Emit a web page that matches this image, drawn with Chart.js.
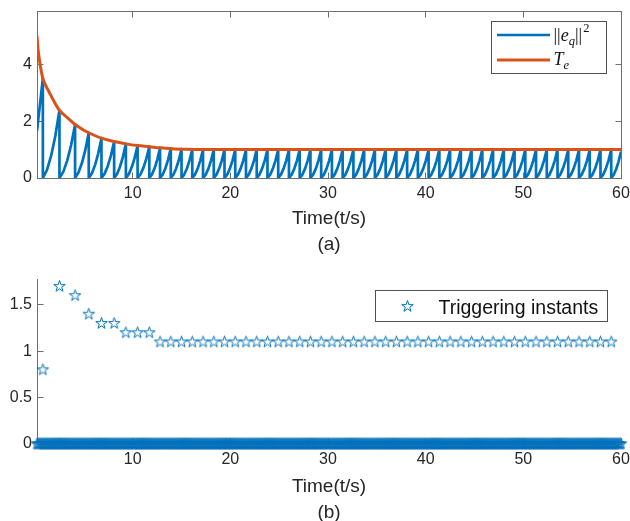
<!DOCTYPE html>
<html>
<head>
<meta charset="utf-8">
<script src="https://cdn.jsdelivr.net/npm/chart.js@4.4.1/dist/chart.umd.min.js"></script>
<style>
  html, body { margin: 0; padding: 0; background: #fff; }
  #wrap { position: relative; width: 630px; height: 521px; overflow: hidden; }
  canvas { position: absolute; left: 0; }
  #panelA { top: 0; }
  #panelB { top: 262px; }
</style>
</head>
<body>
<div id="wrap">
  <canvas id="panelA" width="630" height="262"></canvas>
  <canvas id="panelB" width="630" height="259"></canvas>
</div>
<script>
// ---- tick labels ----
const xTicks = [10, 20, 30, 40, 50, 60];
const errorYTicks = [0, 2, 4];
const eventYTicks = [0, 0.5, 1, 1.5];

// ---- inter-event intervals (s); the first one is measured from t = 0 ----
const triggerIntervals = [
  0.8, 1.7, 1.6, 1.4, 1.3, 1.3, 1.2, 1.2, 1.2,
  1.1, 1.1, 1.1, 1.1, 1.1, 1.1, 1.1, 1.1, 1.1, 1.1,
  1.1, 1.1, 1.1, 1.1, 1.1, 1.1, 1.1, 1.1, 1.1, 1.1,
  1.1, 1.1, 1.1, 1.1, 1.1, 1.1, 1.1, 1.1, 1.1, 1.1,
  1.1, 1.1, 1.1, 1.1, 1.1, 1.1, 1.1, 1.1, 1.1, 1.1,
  1.1, 1.1, 1.1
];

// ---- ||e_q||^2 reached just before each trigger ----
const errorPeaks = [
  3.5, 2.38, 1.88, 1.59, 1.40, 1.28, 1.20, 1.14, 1.10, 1.06, 1.04, 1.02, 1.01,
  1.0, 1.0, 1.0, 1.0, 1.0, 1.0, 1.0, 1.0, 1.0, 1.0,
  1.0, 1.0, 1.0, 1.0, 1.0, 1.0, 1.0, 1.0, 1.0, 1.0,
  1.0, 1.0, 1.0, 1.0, 1.0, 1.0, 1.0, 1.0, 1.0, 1.0,
  1.0, 1.0, 1.0, 1.0, 1.0, 1.0, 1.0, 1.0, 1.0
];
const errorAtStart = 1.66;  // value at the left edge of the window
const errorAtEnd = 0.93;    // value at t = 60
// shape of each rise after a reset: fraction of the interval -> fraction of the next peak
const riseTime  = [0.25, 0.5, 0.75];
const riseLevel = [0.12, 0.33, 0.62];

// ---- threshold T_e ----
const thresholdTimes  = [0.2, 0.3, 0.45, 0.6, 0.8, 1.1, 1.4, 1.9, 2.5, 3.3, 4.1, 5.0, 5.5, 6.8, 8.1, 9.3, 10.5, 11.7, 12.8, 14.0, 15.5, 17.0, 19.0, 60];
const thresholdValues = [5.0, 4.55, 4.15, 3.82, 3.5, 3.25, 3.05, 2.72, 2.38, 2.12, 1.88, 1.68, 1.59, 1.40, 1.28, 1.20, 1.14, 1.10, 1.06, 1.03, 1.01, 1.0, 1.0, 1.0];

// ---- sampling of the event signal (zero between events) ----
const tStart = 0.2;
const tEnd = 60;
const sampleStep = 0.1;

// ---- style ----
const BLUE = '#0072BD';
const ORANGE = '#D95319';
const TEXT = '#262626';
const AXIS = '#6f6f6f';
const SANS = '"Liberation Sans", Arial, Helvetica, sans-serif';
const SERIF = '"Liberation Serif", "Times New Roman", "DejaVu Serif", serif';

Chart.defaults.font.family = SANS;
Chart.defaults.color = TEXT;

// trigger instants from the intervals
const triggerTimes = [];
triggerIntervals.reduce((t, d) => {
  const tk = Math.round((t + d) * 100) / 100;
  triggerTimes.push(tk);
  return tk;
}, 0);

// ||e_q||^2: rises to the threshold, reset to zero at each trigger
const errorPoints = [{ x: tStart, y: errorAtStart }];
triggerTimes.forEach((t, k) => {
  errorPoints.push({ x: t, y: errorPeaks[k] });
  errorPoints.push({ x: t, y: 0 });
  const last = k === triggerTimes.length - 1;
  const tNext = last ? tEnd : triggerTimes[k + 1];
  const pNext = last ? errorAtEnd : errorPeaks[k + 1];
  riseTime.forEach((f, i) => {
    errorPoints.push({ x: t + f * (tNext - t), y: riseLevel[i] * pNext });
  });
});
errorPoints.push({ x: tEnd, y: errorAtEnd });

const thresholdPoints = thresholdTimes.map((t, i) => ({ x: t, y: thresholdValues[i] }));

const eventPoints = triggerTimes.map((t, k) => ({ x: t, y: triggerIntervals[k] }));
const zeroPoints = [];
for (let i = 0; ; i++) {
  const t = Math.round((tStart + i * sampleStep) * 100) / 100;
  if (t > tEnd) break;
  zeroPoints.push({ x: t, y: 0 });
}

// five-pointed star marker
function makeStar(outer, color) {
  const inner = outer * 0.382;
  const size = Math.ceil(outer * 2 + 3);
  const cv = document.createElement('canvas');
  cv.width = size; cv.height = size;
  const g = cv.getContext('2d');
  const c = size / 2;
  g.beginPath();
  for (let i = 0; i < 10; i++) {
    const r = i % 2 ? inner : outer;
    const a = -Math.PI / 2 + i * Math.PI / 5;
    const px = c + r * Math.cos(a), py = c + r * Math.sin(a);
    if (i === 0) g.moveTo(px, py); else g.lineTo(px, py);
  }
  g.closePath();
  g.strokeStyle = color;
  g.lineWidth = 1;
  g.stroke();
  return cv;
}
const starMarker = makeStar(6, BLUE);

// inward tick marks and (optionally) the closed box
const axesFrame = {
  id: 'axesFrame',
  beforeDatasetsDraw(chart, args, opts) {
    const { ctx, chartArea: a, scales: { x, y } } = chart;
    const len = 6;
    const al = v => Math.round(v - 0.5) + 0.5;
    const L = al(a.left), R = al(a.right), T = al(a.top), B = al(a.bottom);
    ctx.save();
    ctx.strokeStyle = AXIS;
    ctx.lineWidth = 1;
    ctx.beginPath();
    if (opts.box) {
      ctx.moveTo(L, T); ctx.lineTo(R, T); ctx.lineTo(R, B);
    }
    x.ticks.forEach(t => {
      const px = al(x.getPixelForValue(t.value));
      ctx.moveTo(px, B); ctx.lineTo(px, B - len);
      if (opts.box) { ctx.moveTo(px, T); ctx.lineTo(px, T + len); }
    });
    y.ticks.forEach(t => {
      const py = al(y.getPixelForValue(t.value));
      ctx.moveTo(L, py); ctx.lineTo(L + len, py);
      if (opts.box) { ctx.moveTo(R, py); ctx.lineTo(R - len, py); }
    });
    ctx.stroke();
    ctx.restore();
  }
};

// text runs with sub/superscripts
function drawRuns(ctx, x, baseline, runs) {
  runs.forEach(r => {
    ctx.font = (r.italic ? 'italic ' : '') + r.size + 'px ' + SERIF;
    ctx.fillText(r.text, x, baseline + (r.dy || 0));
    x += ctx.measureText(r.text).width + (r.kern || 0);
  });
}

const errorLegend = {
  id: 'errorLegend',
  afterDraw(chart) {
    const ctx = chart.ctx;
    ctx.save();
    ctx.fillStyle = '#fff';
    ctx.fillRect(491.5, 21.5, 115, 52);
    ctx.strokeStyle = '#505050';
    ctx.lineWidth = 1;
    ctx.strokeRect(491.5, 21.5, 115, 52);
    ctx.lineCap = 'butt';
    ctx.strokeStyle = BLUE; ctx.lineWidth = 2.5;
    ctx.beginPath(); ctx.moveTo(497, 35); ctx.lineTo(550, 35); ctx.stroke();
    ctx.strokeStyle = ORANGE; ctx.lineWidth = 3;
    ctx.beginPath(); ctx.moveTo(497, 60); ctx.lineTo(550, 60); ctx.stroke();
    ctx.fillStyle = '#111';
    ctx.textBaseline = 'alphabetic';
    drawRuns(ctx, 553.5, 40.5, [
      { text: '||', size: 18 },
      { text: 'e', size: 18, italic: true },
      { text: 'q', size: 12.5, italic: true, dy: 4 },
      { text: '||', size: 18, kern: 1 },
      { text: '2', size: 12.5, dy: -9 }
    ]);
    drawRuns(ctx, 553.5, 65, [
      { text: 'T', size: 18, italic: true },
      { text: 'e', size: 12.5, italic: true, dy: 4 }
    ]);
    ctx.restore();
  }
};

const eventLegend = {
  id: 'eventLegend',
  afterDraw(chart) {
    const ctx = chart.ctx;
    ctx.save();
    ctx.fillStyle = '#fff';
    ctx.fillRect(375.5, 28.5, 232, 31);
    ctx.strokeStyle = '#505050';
    ctx.lineWidth = 1;
    ctx.strokeRect(375.5, 28.5, 232, 31);
    ctx.drawImage(starMarker, 407.5 - starMarker.width / 2, 44.5 - starMarker.height / 2);
    ctx.fillStyle = '#111';
    ctx.font = '19.5px ' + SANS;
    ctx.textBaseline = 'alphabetic';
    ctx.fillText('Triggering instants', 438.5, 52.3);
    ctx.restore();
  }
};

function xScale(titleLines, height, titlePadBottom) {
  return {
    type: 'linear', min: tStart, max: tEnd,
    afterBuildTicks: s => { s.ticks = xTicks.map(v => ({ value: v })); },
    afterFit: s => { s.height = height; s.paddingLeft = 0; s.paddingRight = 0; },
    grid: { display: false, drawTicks: false, tickLength: 0 },
    border: { display: true, color: AXIS, width: 1 },
    ticks: { font: { size: 16 }, color: TEXT, padding: 6, maxRotation: 0, autoSkip: false, callback: v => String(v) },
    title: {
      display: true, text: titleLines, color: TEXT,
      font: { size: 19, lineHeight: '26.5px' },
      padding: { top: 0, bottom: titlePadBottom }
    }
  };
}

function yScale(max, ticks) {
  return {
    type: 'linear', min: 0, max: max,
    afterBuildTicks: s => { s.ticks = ticks.map(v => ({ value: v })); },
    afterFit: s => { s.width = 37; s.paddingTop = 0; s.paddingBottom = 0; },
    grid: { display: false, drawTicks: false, tickLength: 0 },
    border: { display: true, color: AXIS, width: 1 },
    ticks: { font: { size: 16 }, color: TEXT, padding: 5, callback: v => String(v) }
  };
}

// (a) error norm and threshold
new Chart(document.getElementById('panelA'), {
  type: 'scatter',
  data: {
    datasets: [
      { label: 'T_e', data: thresholdPoints, showLine: true, borderColor: ORANGE, borderWidth: 3,
        pointRadius: 0, cubicInterpolationMode: 'monotone', order: 0 },
      { label: '||e_q||^2', data: errorPoints, showLine: true, borderColor: BLUE, borderWidth: 2.7,
        pointRadius: 0, tension: 0, borderJoinStyle: 'round', order: 1 }
    ]
  },
  options: {
    responsive: false, animation: false, events: [],
    layout: { padding: { left: 0, right: 9, top: 11, bottom: 0 } },
    plugins: { legend: { display: false }, tooltip: { enabled: false }, axesFrame: { box: true } },
    scales: {
      x: xScale(['Time(t/s)', '(a)'], 84, 3.75),
      y: yScale(5.87, errorYTicks)
    }
  },
  plugins: [axesFrame, errorLegend]
});

// (b) triggering instants
new Chart(document.getElementById('panelB'), {
  type: 'scatter',
  data: {
    datasets: [
      { label: 'Triggering instants', data: eventPoints, pointStyle: starMarker, pointRadius: 6, clip: false },
      { label: 'zero level', data: zeroPoints, pointStyle: starMarker, pointRadius: 6, clip: false }
    ]
  },
  options: {
    responsive: false, animation: false, events: [],
    layout: { padding: { left: 0, right: 9, top: 17, bottom: 0 } },
    plugins: { legend: { display: false }, tooltip: { enabled: false }, axesFrame: { box: false } },
    scales: {
      x: xScale(['Time(t/s)', '(b)'], 77, -5.25),
      y: yScale(1.78, eventYTicks)
    }
  },
  plugins: [axesFrame, eventLegend]
});
</script>
</body>
</html>
